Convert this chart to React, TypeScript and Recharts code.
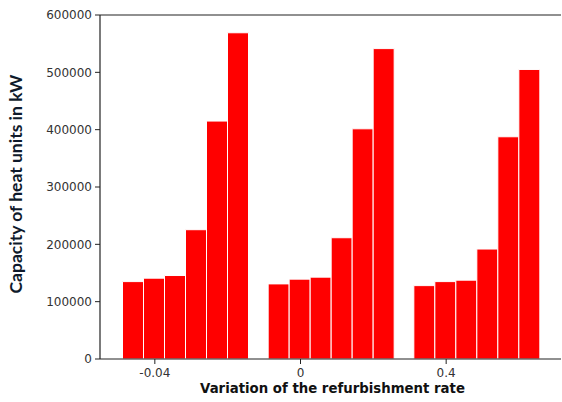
import React from "react";
import { BarChart, Bar, XAxis, YAxis, ReferenceLine, Label } from "recharts";

const categories = ["-0.04", "0", "0.4"];
const bar1 = [135000, 131000, 128000];
const bar2 = [141000, 139300, 135000];
const bar3 = [145600, 142800, 137500];
const bar4 = [225500, 211500, 191800];
const bar5 = [415000, 401500, 387600];
const bar6 = [569000, 541400, 505000];
const yTicks = [0, 100000, 200000, 300000, 400000, 500000, 600000];

const seriesKeys = ["b1", "b2", "b3", "b4", "b5", "b6"];
const data = categories.map((c, i) => ({
  cat: c,
  b1: bar1[i],
  b2: bar2[i],
  b3: bar3[i],
  b4: bar4[i],
  b5: bar5[i],
  b6: bar6[i],
}));

const TICK_SHIFT = -32;

const XTick = (props: any) => {
  const { x, y, payload } = props;
  const tx = x + TICK_SHIFT;
  return (
    <g>
      <line x1={tx} x2={tx} y1={y - 8} y2={y - 3} stroke="#222" strokeWidth={1} />
      <text
        x={tx}
        y={y + 10}
        textAnchor="middle"
        fontFamily="DejaVu Sans"
        fontSize={12}
        fill="#333"
      >
        {payload.value}
      </text>
    </g>
  );
};

export default function App() {
  return (
    <div style={{ position: "absolute", left: 0, top: 0, width: 562, height: 402, overflow: "hidden", background: "#fff" }}>
      <BarChart
        width={570}
        height={402}
        data={data}
        margin={{ top: 15, right: 9, bottom: 13, left: 0 }}
        barCategoryGap={8.5}
        barGap={0}
      >
        <XAxis
          dataKey="cat"
          height={30}
          tick={<XTick />}
          tickLine={false}
          axisLine={{ stroke: "#222", strokeWidth: 1.2 }}
          padding={{ left: 14, right: 10 }}
          interval={0}
        >
          <Label
            content={(p: any) => {
              const vb = p.viewBox;
              return (
                <text
                  x={vb.x + vb.width / 2 + 2}
                  y={vb.y + 34}
                  textAnchor="middle"
                  fontFamily="DejaVu Sans"
                  fontWeight="bold"
                  fontSize={13.3}
                  fill="#111"
                >
                  Variation of the refurbishment rate
                </text>
              );
            }}
          />
        </XAxis>
        <YAxis
          width={100}
          domain={[0, 600000]}
          ticks={yTicks}
          interval={0}
          tickSize={5}
          tickLine={{ stroke: "#222" }}
          axisLine={{ stroke: "#222", strokeWidth: 1.2 }}
          tick={{ fontFamily: "DejaVu Sans", fontSize: 12, fill: "#333" }}
          tickMargin={3}
        >
          <Label
            content={(p: any) => {
              const vb = p.viewBox;
              const cy = vb.y + vb.height / 2 - 3;
              return (
                <text
                  x={22}
                  y={cy}
                  transform={`rotate(-90, 22, ${cy})`}
                  textAnchor="middle"
                  fontFamily="Lato"
                  fontWeight="bold"
                  fontSize={17.5}
                  fill="#0f1a2b"
                >
                  Capacity of heat units in kW
                </text>
              );
            }}
          />
        </YAxis>
        <ReferenceLine y={600000} stroke="#222" strokeWidth={1.2} ifOverflow="visible" />
        {seriesKeys.map((k) => (
          <Bar key={k} dataKey={k} fill="#ff0000" stroke="#ffffff" strokeWidth={1} isAnimationActive={false} />
        ))}
      </BarChart>
    </div>
  );
}
